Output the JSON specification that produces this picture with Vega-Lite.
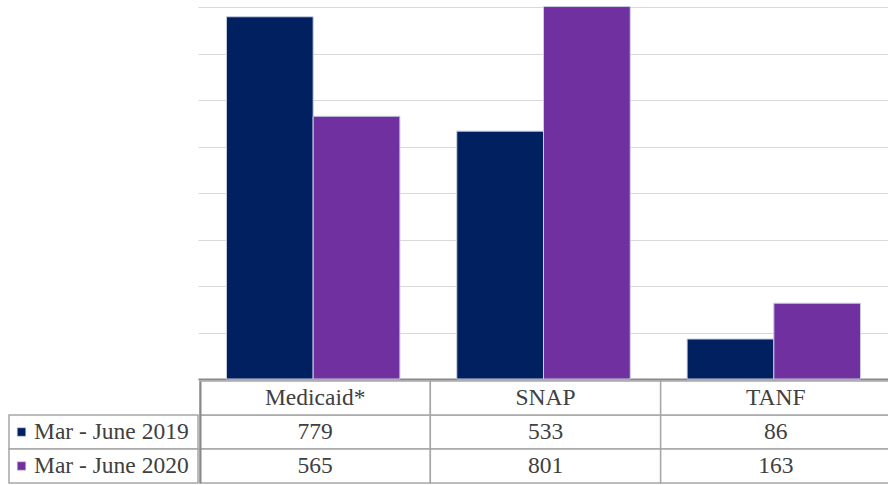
{
  "$schema": "https://vega.github.io/schema/vega-lite/v6.json",
  "padding": {"left": 8, "top": 6, "right": 0, "bottom": 0},
  "background": "white",
  "datasets": {
    "counts": [
      {"program": "Medicaid*", "period": "Mar - June 2019", "value": 779},
      {"program": "Medicaid*", "period": "Mar - June 2020", "value": 565},
      {"program": "SNAP", "period": "Mar - June 2019", "value": 533},
      {"program": "SNAP", "period": "Mar - June 2020", "value": 801},
      {"program": "TANF", "period": "Mar - June 2019", "value": 86},
      {"program": "TANF", "period": "Mar - June 2020", "value": 163}
    ]
  },
  "config": {"view": {"stroke": null}, "font": "'Liberation Serif', 'Times New Roman', 'DejaVu Serif', serif"},
  "spacing": 0,
  "vconcat": [
    {
      "spacing": 0,
      "hconcat": [
        {
          "width": 189,
          "height": 372,
          "data": {"name": "counts"},
          "transform": [{"filter": "false"}],
          "mark": {"type": "rect", "opacity": 0},
          "encoding": {}
        },
        {
          "width": 691,
          "height": 372,
          "data": {"name": "counts"},
          "mark": {"type": "bar", "stroke": "#c9cde0", "strokeWidth": 1},
          "encoding": {
            "x": {
              "field": "program",
              "type": "nominal",
              "sort": null,
              "scale": {"paddingInner": 0.247, "paddingOuter": 0.1235},
              "axis": {"labels": false, "ticks": false, "title": null, "domainColor": "#898989", "domainWidth": 2}
            },
            "xOffset": {"field": "period", "type": "nominal", "scale": {"paddingInner": 0, "paddingOuter": 0}},
            "y": {
              "field": "value",
              "type": "quantitative",
              "scale": {"domain": [0, 800], "nice": false},
              "axis": {
                "labels": false,
                "ticks": false,
                "domain": false,
                "title": null,
                "values": [0, 100, 200, 300, 400, 500, 600, 700, 800],
                "gridColor": "#d9d9d9",
                "gridWidth": 1
              }
            },
            "color": {
              "field": "period",
              "type": "nominal",
              "scale": {"domain": ["Mar - June 2019", "Mar - June 2020"], "range": ["#002060", "#7030a0"]},
              "legend": null
            }
          }
        }
      ]
    },
    {
      "spacing": 0,
      "hconcat": [
        {
          "width": 189,
          "height": 102,
          "data": {"name": "counts"},
          "transform": [{"filter": "datum.program === 'Medicaid*'"}],
          "encoding": {
            "y": {
              "field": "period",
              "type": "nominal",
              "axis": null,
              "scale": {"domain": ["header", "Mar - June 2019", "Mar - June 2020"], "paddingInner": 0, "paddingOuter": 0}
            }
          },
          "layer": [
            {"mark": {"type": "rect", "fill": "white", "stroke": "#a6a6a6", "strokeWidth": 1.5}},
            {
              "mark": {"type": "square", "size": 72, "filled": true, "opacity": 1, "stroke": "#c9cde0", "strokeWidth": 0.6},
              "encoding": {
                "x": {"value": 12.5},
                "color": {
                  "field": "period",
                  "type": "nominal",
                  "scale": {"domain": ["Mar - June 2019", "Mar - June 2020"], "range": ["#002060", "#7030a0"]},
                  "legend": null
                }
              }
            },
            {
              "mark": {"type": "text", "align": "left", "baseline": "middle", "fontSize": 23.5, "color": "#404040"},
              "encoding": {"x": {"value": 25}, "text": {"field": "period"}}
            }
          ]
        },
        {
          "width": 691,
          "height": 102,
          "data": {"name": "counts"},
          "encoding": {
            "x": {"field": "program", "type": "nominal", "sort": null, "axis": null, "scale": {"paddingInner": 0, "paddingOuter": 0}}
          },
          "layer": [
            {
              "mark": {"type": "rect", "fill": "white", "stroke": "#a6a6a6", "strokeWidth": 1.5},
              "encoding": {
                "y": {
                  "field": "period",
                  "type": "nominal",
                  "axis": {"labels": false, "ticks": false, "title": null, "domainColor": "#898989", "domainWidth": 2},
                  "scale": {"domain": ["header", "Mar - June 2019", "Mar - June 2020"], "paddingInner": 0, "paddingOuter": 0}
                }
              }
            },
            {
              "transform": [{"filter": "datum.period === 'Mar - June 2019'"}],
              "mark": {"type": "rect", "fill": "white", "stroke": "#a6a6a6", "strokeWidth": 1.5},
              "encoding": {"y": {"datum": "header", "type": "nominal"}}
            },
            {
              "mark": {"type": "text", "baseline": "middle", "fontSize": 23.5, "color": "#404040"},
              "encoding": {"y": {"field": "period", "type": "nominal"}, "text": {"field": "value", "type": "quantitative"}}
            },
            {
              "transform": [{"filter": "datum.period === 'Mar - June 2019'"}],
              "mark": {"type": "text", "baseline": "middle", "fontSize": 23.5, "color": "#404040"},
              "encoding": {"y": {"datum": "header", "type": "nominal"}, "text": {"field": "program", "type": "nominal"}}
            }
          ]
        }
      ]
    }
  ]
}
